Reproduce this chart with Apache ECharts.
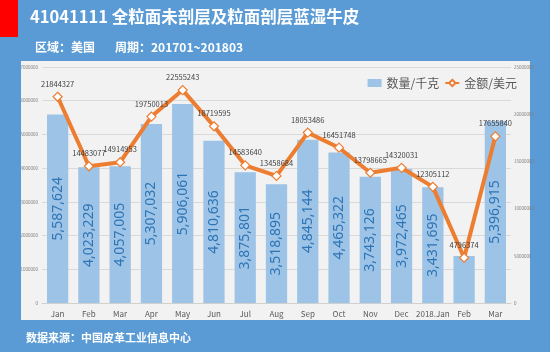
<!DOCTYPE html>
<html>
<head>
<meta charset="utf-8">
<script src="https://cdn.jsdelivr.net/npm/echarts@6/dist/echarts.min.js"></script>
<style>
html, body { margin: 0; padding: 0; background: #5b9bd5; }
#main { width: 550px; height: 352px; }
</style>
</head>
<body>
<div id="main"></div>
<script>
let months = ['Jan', 'Feb', 'Mar', 'Apr', 'May', 'Jun', 'Jul', 'Aug', 'Sep', 'Oct', 'Nov', 'Dec', '2018.Jan', 'Feb', 'Mar'];

// 数量/千克
let weightKg = [5587624, 4023229, 4057005, 5307032, 5906061, 4810636, 3875801, 3518895, 4845144, 4465322, 3743126, 3972465, 3431695, 1395000, 5396915];

// 金额/美元
let amountUsd = [21844327, 14483077, 14914953, 19750013, 22555243, 18719595, 14583640, 13458684, 18053486, 16451748, 13798665, 14320031, 12305112, 4796374, 17655840];

let font = '"Noto Sans CJK SC", "Noto Sans", sans-serif';

let barData = [];
for (let i = 0; i < weightKg.length; i++) {
    let item = { value: weightKg[i] };
    // 太短的柱子放不下标签
    if (weightKg[i] < 2000000) {
        item.label = { show: false };
    }
    barData.push(item);
}

function plain(v) {
    return String(v);
}

let option = {
    backgroundColor: '#5b9bd5',
    animation: false,
    textStyle: { fontFamily: font },
    graphic: [
        { type: 'rect', shape: { x: 0, y: 0, width: 18, height: 37 }, style: { fill: '#ff0000' } },
        { type: 'rect', shape: { x: 21, y: 61, width: 509, height: 259 }, style: { fill: '#f2f2f2' }, z: -10 },
        {
            type: 'text', left: 30, top: 8,
            style: { text: '41041111 全粒面未剖层及粒面剖层蓝湿牛皮', fill: '#ffffff', font: 'bold 16.5px ' + font }
        },
        {
            type: 'text', left: 35, top: 41,
            style: { text: '区域：美国', fill: '#ffffff', font: 'bold 12px ' + font }
        },
        {
            type: 'text', left: 115, top: 41,
            style: { text: '周期：201701~201803', fill: '#ffffff', font: 'bold 12px ' + font }
        },
        {
            type: 'text', left: 26, top: 332,
            style: { text: '数据来源：中国皮革工业信息中心', fill: '#ffffff', font: 'bold 11px ' + font }
        }
    ],
    legend: {
        right: 28,
        top: 72,
        itemGap: 5,
        itemWidth: 14,
        itemHeight: 8,
        textStyle: { fontSize: 12, color: '#595959', fontFamily: font },
        data: [
            { name: '数量/千克', icon: 'rect' },
            { name: '金额/美元' }
        ]
    },
    grid: {
        left: 42,
        right: 39,
        top: 67,
        bottom: 49
    },
    xAxis: {
        type: 'category',
        data: months,
        axisLine: { lineStyle: { color: '#d0d0d0' } },
        axisTick: { show: false },
        axisLabel: { color: '#595959', fontSize: 8, margin: 7, interval: 0 }
    },
    yAxis: [
        {
            type: 'value',
            min: 0,
            max: 7000000,
            interval: 1000000,
            axisLabel: { color: '#7f7f7f', fontSize: 4.5, margin: 4, formatter: plain },
            splitLine: { lineStyle: { color: '#d9d9d9' } },
            axisLine: { show: false },
            axisTick: { show: false }
        },
        {
            type: 'value',
            min: 0,
            max: 25000000,
            interval: 5000000,
            axisLabel: { color: '#7f7f7f', fontSize: 4.5, margin: 3, formatter: plain },
            splitLine: { show: false },
            axisLine: { show: false },
            axisTick: { show: false }
        }
    ],
    series: [
        {
            name: '数量/千克',
            type: 'bar',
            data: barData,
            barWidth: '68%',
            itemStyle: { color: '#9dc3e6' },
            label: {
                show: true,
                position: 'inside',
                rotate: 90,
                color: '#2e75b6',
                fontSize: 14,
                fontFamily: '"Noto Sans", sans-serif',
                formatter: function (p) {
                    return p.value.toLocaleString('en-US');
                }
            }
        },
        {
            name: '金额/美元',
            type: 'line',
            yAxisIndex: 1,
            data: amountUsd,
            symbol: 'diamond',
            symbolSize: 9,
            lineStyle: { color: '#ed7d31', width: 4 },
            itemStyle: { color: '#ffffff', borderColor: '#ed7d31', borderWidth: 1.2 },
            label: {
                show: true,
                position: 'top',
                distance: 4,
                color: '#404040',
                fontSize: 7.5,
                fontFamily: font
            }
        }
    ]
};

let chart = echarts.init(document.getElementById('main'));
chart.setOption(option);
</script>
</body>
</html>
